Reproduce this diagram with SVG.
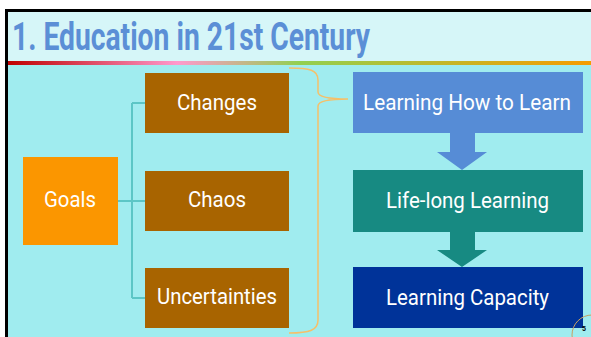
<svg xmlns="http://www.w3.org/2000/svg" width="591" height="337" viewBox="0 0 591 337">
<defs>
<linearGradient id="bar" x1="0" y1="0" x2="1" y2="0">
<stop offset="0" stop-color="#C00000"/>
<stop offset="0.29" stop-color="#FF99CC"/>
<stop offset="0.5" stop-color="#92D050"/>
<stop offset="1" stop-color="#F59C00"/>
</linearGradient>
<style>
.t{font-family:Roboto,"Liberation Sans",sans-serif;font-size:22.5px;fill:#FFFFFF;text-anchor:middle}
.brown{fill:#A86400}
.conn{stroke:#5CC6C6;stroke-width:2;fill:none}
</style>
</defs>
<rect x="0" y="0" width="591" height="337" fill="#FFFFFF"/>
<rect x="5" y="9" width="586" height="328" fill="#000000"/>
<rect x="8" y="12" width="583" height="325" fill="#A0ECEF"/>
<rect x="8" y="12" width="583" height="49" fill="#D6F6F8"/>
<rect x="8" y="61" width="583" height="4" fill="url(#bar)"/>
<text x="12" y="50" font-family="Roboto,'Liberation Sans',sans-serif" font-weight="bold" font-size="39" fill="#5B8FD6" textLength="358" lengthAdjust="spacingAndGlyphs">1. Education in 21st Century</text>
<g id="connectors">
<path class="conn" d="M118 201 H132 M132 103 V298 M132 103 H145 M132 201 H145 M132 298 H145"/>
<path d="M289 68 C310 68 318 70 318 80 V92 C318 97 330 99 348 99 C330 99 318 101 318 106 V320 C318 330 310 333 289 333" fill="none" stroke="#F5C06A" stroke-width="1.5"/>
<path d="M450 133 H475 V152 H487 L462 170 L437 152 H450 Z" fill="#568CD6"/>
<path d="M450 232 H475 V250 H487 L462 267 L437 250 H450 Z" fill="#178A82"/>
</g>
<g id="goals"><rect x="23" y="157" width="95" height="88" fill="#FB9600"/><text class="t" x="70" y="207" textLength="52" lengthAdjust="spacingAndGlyphs">Goals</text></g>
<g id="changes"><rect class="brown" x="145" y="73" width="144" height="60"/><text class="t" x="217" y="110" textLength="80" lengthAdjust="spacingAndGlyphs">Changes</text></g>
<g id="chaos"><rect class="brown" x="145" y="171" width="144" height="60"/><text class="t" x="217" y="207" textLength="58" lengthAdjust="spacingAndGlyphs">Chaos</text></g>
<g id="uncertainties"><rect class="brown" x="145" y="268" width="144" height="60"/><text class="t" x="217" y="304" textLength="120" lengthAdjust="spacingAndGlyphs">Uncertainties</text></g>
<g id="learn-how"><rect x="353" y="72" width="230" height="61" fill="#568CD6"/><text class="t" x="467" y="110" textLength="208" lengthAdjust="spacingAndGlyphs">Learning How to Learn</text></g>
<g id="lifelong"><rect x="353" y="170" width="230" height="62" fill="#178A82"/><text class="t" x="467.5" y="208" textLength="163" lengthAdjust="spacingAndGlyphs">Life-long Learning</text></g>
<g id="capacity"><rect x="353" y="267" width="230" height="61" fill="#003399"/><text class="t" x="467.5" y="305" textLength="163" lengthAdjust="spacingAndGlyphs">Learning Capacity</text></g>
<circle cx="592" cy="335" r="20" fill="none" stroke="#C8A060" stroke-width="1"/>
<text x="584" y="331" font-family="Roboto,'Liberation Sans',sans-serif" font-weight="bold" font-size="7" fill="#000000" text-anchor="middle">5</text>
</svg>
